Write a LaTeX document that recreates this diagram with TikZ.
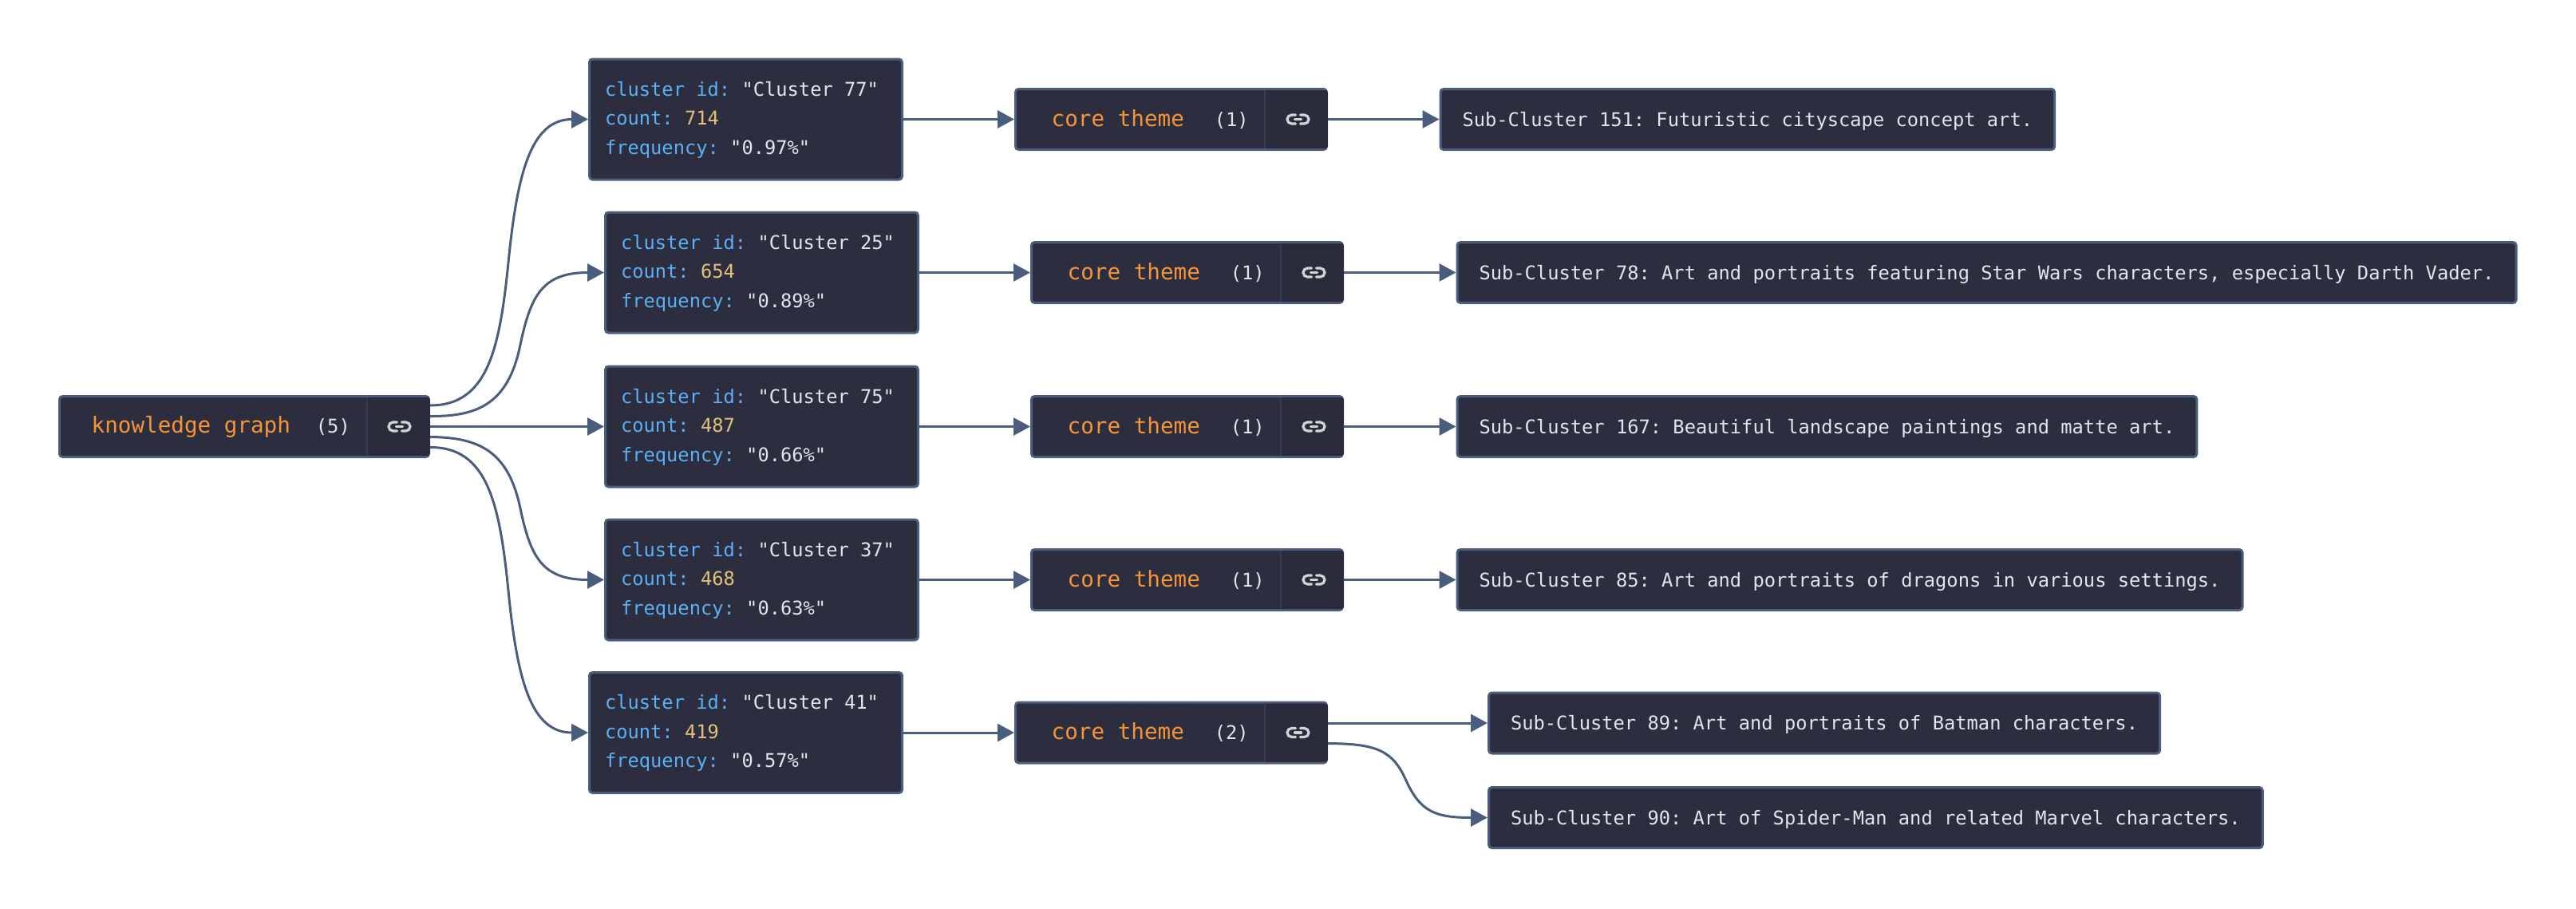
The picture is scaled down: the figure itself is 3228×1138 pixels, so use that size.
\documentclass[tikz,border=0pt]{standalone}
\usepackage{fontspec}
\usetikzlibrary{arrows.meta,positioning}
\setmonofont{DejaVu Sans Mono}
\definecolor{boxfill}{HTML}{2C2E3F}
\definecolor{cellfill}{HTML}{2A2C3B}
\definecolor{edgeblue}{HTML}{4A5D7C}
\definecolor{keyblue}{HTML}{5CB0F4}
\definecolor{numyellow}{HTML}{E5C07B}
\definecolor{themeorange}{HTML}{F79536}
\definecolor{valuewhite}{HTML}{E2E6EA}
\tikzset{
    box/.style={draw=edgeblue,fill=boxfill,line width=3pt,rounded corners=4pt,inner sep=0pt},
    mainbox/.style={box,minimum height=76pt},
    clusterbox/.style={box,minimum width=392pt,minimum height=151pt,text width=353pt,align=left,
        text=valuewhite,text height=20pt,text depth=79pt,
        execute at begin node={\spaceskip=0pt\xspaceskip=0pt\frenchspacing},
        font=\ttfamily\fontsize{23.74pt}{36.5pt}\selectfont},
    subbox/.style={box,anchor=west,minimum height=76pt,inner xsep=27.5pt,text=valuewhite,
        text height=24pt,text depth=7pt,
        font=\ttfamily\fontsize{23.74pt}{37pt}\selectfont},
    titletext/.style={inner sep=0pt,text=valuewhite,text height=24pt,text depth=7pt,
        font=\ttfamily\fontsize{23.74pt}{37pt}\selectfont},
    linkcell/.style={fill=cellfill,rounded corners=3pt,inner sep=0pt,minimum width=78.5pt,minimum height=73pt,anchor=east},
    divider/.style={draw=edgeblue!30!boxfill,line width=2pt},
    linkedge/.style={draw=edgeblue,line width=3pt,-{Triangle[length=21pt,width=22pt]}},
    linkicon/.pic={
        \draw[valuewhite!92!black,line width=3.2pt,line cap=round]
            (-3,-5.5) -- (-8,-5.5) arc (270:90:5.5) -- (-3,5.5)
            (3,-5.5) -- (8,-5.5) arc (-90:90:5.5) -- (3,5.5);
        \draw[valuewhite!92!black,line width=3.2pt,line cap=round] (-4,0) -- (4,0);
    }
}
\newcommand{\themetext}[3]{{\color{themeorange}\fontsize{27.6pt}{37pt}\selectfont #1}\hspace{#3}(#2)}

\begin{document}
\begin{tikzpicture}[x=1pt,y=-1pt]
    \useasboundingbox (0,0) rectangle (3228,1138);

    % root
    \node[mainbox,minimum width=463pt] (kg) at (306,534.5) {};
    \node[linkcell] (kgcell) at (kg.east) {};
    \draw[divider] (kgcell.north west) -- (kgcell.south west);
    \pic at (500.5,534.5) {linkicon};
    \node[titletext,text depth=9pt,right=41.5pt of kg.west] (kgtext) {\themetext{knowledge graph}{5}{32pt}};

    % clusters
    \node[clusterbox] (c77) at (934.5,149.5) {{\color{keyblue}cluster id:} "Cluster 77"\\{\color{keyblue}count:} {\color{numyellow}714}\\{\color{keyblue}frequency:} "0.97\%"};
    \node[clusterbox] (c25) at (954.5,341.5) {{\color{keyblue}cluster id:} "Cluster 25"\\{\color{keyblue}count:} {\color{numyellow}654}\\{\color{keyblue}frequency:} "0.89\%"};
    \node[clusterbox] (c75) at (954.5,534.5) {{\color{keyblue}cluster id:} "Cluster 75"\\{\color{keyblue}count:} {\color{numyellow}487}\\{\color{keyblue}frequency:} "0.66\%"};
    \node[clusterbox] (c37) at (954.5,726.5) {{\color{keyblue}cluster id:} "Cluster 37"\\{\color{keyblue}count:} {\color{numyellow}468}\\{\color{keyblue}frequency:} "0.63\%"};
    \node[clusterbox] (c41) at (934.5,918) {{\color{keyblue}cluster id:} "Cluster 41"\\{\color{keyblue}count:} {\color{numyellow}419}\\{\color{keyblue}frequency:} "0.57\%"};

    % core themes
    \node[mainbox,minimum width=390pt] (t77) at (1467.5,149.5) {};
    \node[mainbox,minimum width=390pt] (t25) at (1487.5,341.5) {};
    \node[mainbox,minimum width=390pt] (t75) at (1487.5,534.5) {};
    \node[mainbox,minimum width=390pt] (t37) at (1487.5,726.5) {};
    \node[mainbox,minimum width=390pt] (t41) at (1467.5,918) {};
    \node[linkcell] (t77cell) at (t77.east) {};
    \node[linkcell] (t25cell) at (t25.east) {};
    \node[linkcell] (t75cell) at (t75.east) {};
    \node[linkcell] (t37cell) at (t37.east) {};
    \node[linkcell] (t41cell) at (t41.east) {};
    \draw[divider] (t77cell.north west) -- (t77cell.south west);
    \draw[divider] (t25cell.north west) -- (t25cell.south west);
    \draw[divider] (t75cell.north west) -- (t75cell.south west);
    \draw[divider] (t37cell.north west) -- (t37cell.south west);
    \draw[divider] (t41cell.north west) -- (t41cell.south west);
    \pic at (1626.5,149.5) {linkicon};
    \pic at (1646.5,341.5) {linkicon};
    \pic at (1646.5,534.5) {linkicon};
    \pic at (1646.5,726.5) {linkicon};
    \pic at (1626.5,918) {linkicon};
    \node[titletext,right=46.5pt of t77.west] (t77text) {\themetext{core theme}{1}{38pt}};
    \node[titletext,right=46.5pt of t25.west] (t25text) {\themetext{core theme}{1}{38pt}};
    \node[titletext,right=46.5pt of t75.west] (t75text) {\themetext{core theme}{1}{38pt}};
    \node[titletext,right=46.5pt of t37.west] (t37text) {\themetext{core theme}{1}{38pt}};
    \node[titletext,right=46.5pt of t41.west] (t41text) {\themetext{core theme}{2}{38pt}};

    % sub clusters
    \node[subbox] (s151) at (1803.5,149.5) {Sub-Cluster 151: Futuristic cityscape concept art.};
    \node[subbox] (s78) at (1824.5,341.5) {Sub-Cluster 78: Art and portraits featuring Star Wars characters, especially Darth Vader.};
    \node[subbox] (s167) at (1824.5,534.5) {Sub-Cluster 167: Beautiful landscape paintings and matte art.};
    \node[subbox] (s85) at (1824.5,726.5) {Sub-Cluster 85: Art and portraits of dragons in various settings.};
    \node[subbox] (s89) at (1864,906) {Sub-Cluster 89: Art and portraits of Batman characters.};
    \node[subbox] (s90) at (1864,1024.5) {Sub-Cluster 90: Art of Spider-Man and related Marvel characters.};

    % edges
    \draw[linkedge] ([yshift=26.5pt]kg.east) .. controls (610,508) and (626,440) .. (637,329) .. controls (648,218) and (665,149.5) .. (c77.west);
    \draw[linkedge] ([yshift=13pt]kg.east) .. controls (600,522) and (637,505) .. (652,432) .. controls (665,370) and (680,341.5) .. (c25.west);
    \draw[linkedge] (kg.east) -- (c75.west);
    \draw[linkedge] ([yshift=-13pt]kg.east) .. controls (600,548) and (637,565) .. (652,637) .. controls (665,699) and (680,726.5) .. (c37.west);
    \draw[linkedge] ([yshift=-26pt]kg.east) .. controls (610,560) and (626,629) .. (637,740) .. controls (648,851) and (665,918) .. (c41.west);

    \draw[linkedge] (c77) -- (t77);
    \draw[linkedge] (c25) -- (t25);
    \draw[linkedge] (c75) -- (t75);
    \draw[linkedge] (c37) -- (t37);
    \draw[linkedge] (c41) -- (t41);

    \draw[linkedge] (t77) -- (s151);
    \draw[linkedge] (t25) -- (s78);
    \draw[linkedge] (t75) -- (s167);
    \draw[linkedge] (t37) -- (s85);
    \draw[linkedge] (t41.east |- s89.west) -- (s89.west);
    \draw[linkedge] ([yshift=-13.5pt]t41.east) .. controls (1725,932) and (1745,940) .. (1762,978) .. controls (1780,1018) and (1800,1024.5) .. (s90.west);
\end{tikzpicture}
\end{document}
